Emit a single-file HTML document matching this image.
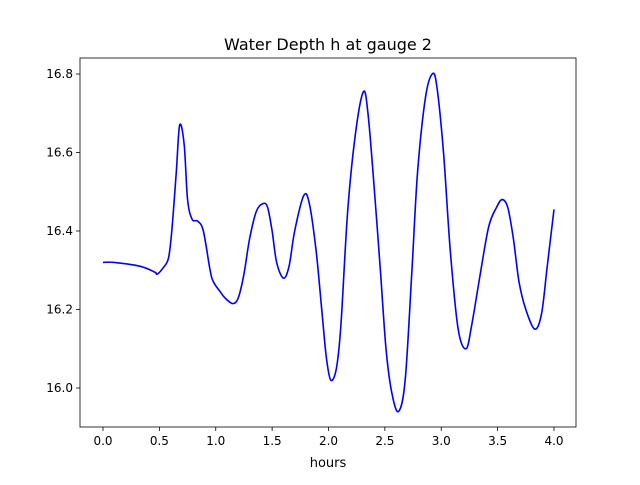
<!DOCTYPE html>
<html><head><meta charset="utf-8"><style>
body{margin:0;background:#fff;}
svg text{font-family:"DejaVu Sans","Liberation Sans",sans-serif;fill:#000;}
</style></head><body>
<svg id="chart" width="640" height="480" viewBox="0 0 640 480" xmlns="http://www.w3.org/2000/svg">
<rect x="0" y="0" width="640" height="480" fill="#fff"/>
<text x="328" y="50" font-size="16" text-anchor="middle">Water Depth h at gauge 2</text>
<g id="axes"></g>
<text x="328" y="467" font-size="13" text-anchor="middle">hours</text>
</svg>
<script>
const xTicks=[0,0.5,1,1.5,2,2.5,3,3.5,4];
const yTicks=[16.0,16.2,16.4,16.6,16.8];
const times=[0,0.1,0.33,0.46,0.48,0.53,0.58,0.61,0.65,0.68,0.72,0.75,0.79,0.84,0.89,0.95,0.98,1.04,1.08,1.15,1.2,1.25,1.3,1.36,1.42,1.46,1.5,1.54,1.6,1.65,1.7,1.78,1.83,1.89,1.94,1.98,2.02,2.07,2.11,2.17,2.24,2.31,2.35,2.4,2.46,2.51,2.56,2.62,2.68,2.74,2.79,2.86,2.92,2.96,3.02,3.08,3.15,3.22,3.27,3.34,3.42,3.49,3.54,3.59,3.64,3.69,3.75,3.83,3.89,3.94,4.0];
const depths=[16.32,16.32,16.31,16.295,16.29,16.305,16.33,16.4,16.55,16.67,16.62,16.48,16.43,16.425,16.4,16.3,16.27,16.245,16.23,16.215,16.23,16.29,16.38,16.45,16.47,16.46,16.4,16.32,16.28,16.31,16.4,16.49,16.47,16.35,16.2,16.08,16.02,16.05,16.16,16.45,16.65,16.755,16.7,16.53,16.3,16.1,15.99,15.94,16.02,16.3,16.55,16.74,16.8,16.77,16.6,16.35,16.15,16.1,16.16,16.28,16.41,16.46,16.48,16.46,16.38,16.27,16.2,16.15,16.19,16.31,16.455];
const NS="http://www.w3.org/2000/svg";
const L=80,R=576,T=58,B=427;
const xs=v=>103+v*(554-103)/4;
const ys=v=>388-(v-16.0)*(388-74)/0.8;
const g=document.getElementById('axes');
function mk(t,a){const e=document.createElementNS(NS,t);for(const k in a)e.setAttribute(k,a[k]);g.appendChild(e);return e;}
xTicks.forEach(v=>{
 const l=mk('line',{x1:xs(v),x2:xs(v),y1:B,y2:B+4,stroke:'#000','stroke-width':0.8});
 
 
 const t=mk('text',{x:xs(v),y:B+18,'font-size':12,'text-anchor':'middle'});t.textContent=v.toFixed(1);
 
 
});
yTicks.forEach(v=>{
 const l=mk('line',{x1:L-4,x2:L,y1:ys(v),y2:ys(v),stroke:'#000','stroke-width':0.8});
 
 
 const t=mk('text',{x:L-7,y:ys(v)+4,'font-size':12,'text-anchor':'end'});t.textContent=v.toFixed(1);
 
 
});
// smooth path via Catmull-Rom
const P=times.map((t,i)=>[xs(t),ys(depths[i])]);
let d='M'+P[0][0]+','+P[0][1];
for(let i=0;i<P.length-1;i++){
 const p0=P[Math.max(0,i-1)],p1=P[i],p2=P[i+1],p3=P[Math.min(P.length-1,i+2)];
 const c1=[p1[0]+(p2[0]-p0[0])/6,p1[1]+(p2[1]-p0[1])/6];
 const c2=[p2[0]-(p3[0]-p1[0])/6,p2[1]-(p3[1]-p1[1])/6];
 d+=' C'+c1[0]+','+c1[1]+' '+c2[0]+','+c2[1]+' '+p2[0]+','+p2[1];
}
const line=mk('path',{d:d,fill:'none',stroke:'#0000ff','stroke-width':1.6});


const fr=mk('rect',{x:L,y:T,width:R-L,height:B-T,fill:'none',stroke:'#000','stroke-width':0.8});


</script>
</body></html>
